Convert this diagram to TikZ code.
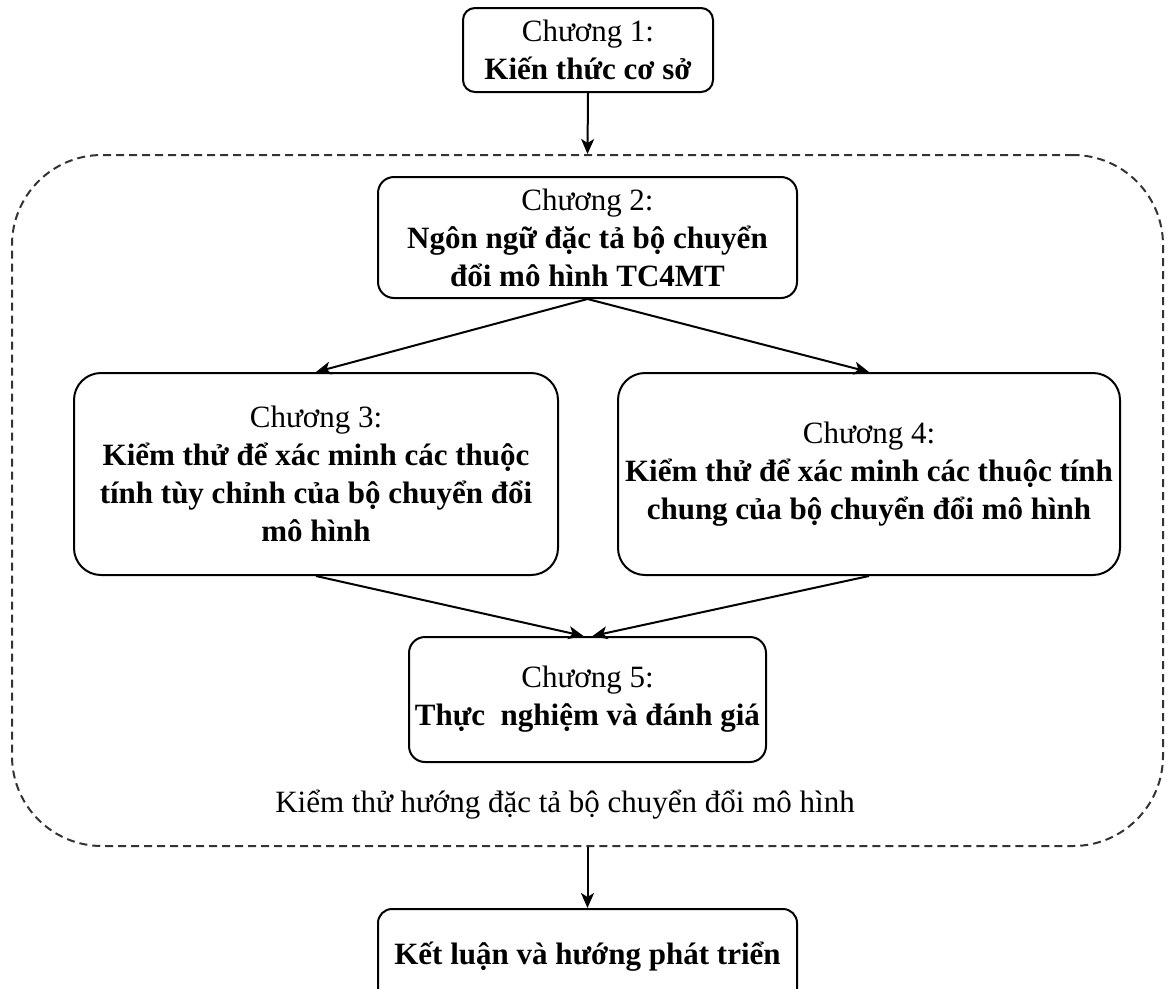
\documentclass[tikz,border=0pt]{standalone}
\usepackage{fontspec}
\setmainfont{Liberation Serif}
\usetikzlibrary{arrows.meta}
\begin{document}
\begin{tikzpicture}[x=1pt,y=-1pt,
  chapter/.style={draw=black, line width=2pt, fill=white, rectangle,
    inner sep=0pt, align=center, font=\fontsize{31}{38}\selectfont},
  group/.style={draw=black!80, line width=2pt, dash pattern=on 8pt off 5pt,
    rectangle, rounded corners=90pt, inner sep=0pt},
  flow/.style={line width=2pt, -{Stealth[length=15pt,width=13pt,inset=4pt]}}]
\useasboundingbox (0,0) rectangle (1167,988);

% dashed frame around chapters 2--5
\node[group, minimum width=1151pt, minimum height=691pt] (frame) at (587.5,500.5) {};
\node[font=\fontsize{31}{38}\selectfont] (framelabel) at (565,805)
  {Kiểm thử hướng đặc tả bộ chuyển đổi mô hình};

% chapter boxes
\node[chapter, rounded corners=12pt, minimum width=250pt, minimum height=84pt] (c1) at (588,50)
  {Chương 1:\\ \textbf{Kiến thức cơ sở}};
\node[chapter, rounded corners=16pt, minimum width=419pt, minimum height=121pt] (c2) at (587.5,237.5)
  {Chương 2:\\ \textbf{Ngôn ngữ đặc tả bộ chuyển}\\ \textbf{đổi mô hình TC4MT}};
\node[chapter, rounded corners=27pt, minimum width=484pt, minimum height=202pt] (c3) at (316,474)
  {Chương 3:\\ \textbf{Kiểm thử để xác minh các thuộc}\\ \textbf{tính tùy chỉnh của bộ chuyển đổi}\\ \textbf{mô hình}};
\node[chapter, rounded corners=27pt, minimum width=502pt, minimum height=202pt] (c4) at (869,474)
  {Chương 4:\\ \textbf{Kiểm thử để xác minh các thuộc tính}\\ \textbf{chung của bộ chuyển đổi mô hình}};
\node[chapter, rounded corners=16pt, minimum width=357pt, minimum height=125pt] (c5) at (587.5,699.5)
  {Chương 5:\\ \textbf{Thực\ \ nghiệm và đánh giá}};
\node[chapter, rounded corners=14pt, minimum width=419pt, minimum height=96pt] (c6) at (587.5,957)
  {\textbf{Kết luận và hướng phát triển}};

% connectors
\draw[flow] (c1.south) -- (frame.north);
\draw[flow] (c2.south) -- (c3.north);
\draw[flow] (c2.south) -- (c4.north);
\draw[flow] (c3.south) -- ([xshift=-4pt]c5.north);
\draw[flow] (c4.south) -- ([xshift=5pt]c5.north);
\draw[flow] (frame.south) -- (c6.north);
\end{tikzpicture}
\end{document}
